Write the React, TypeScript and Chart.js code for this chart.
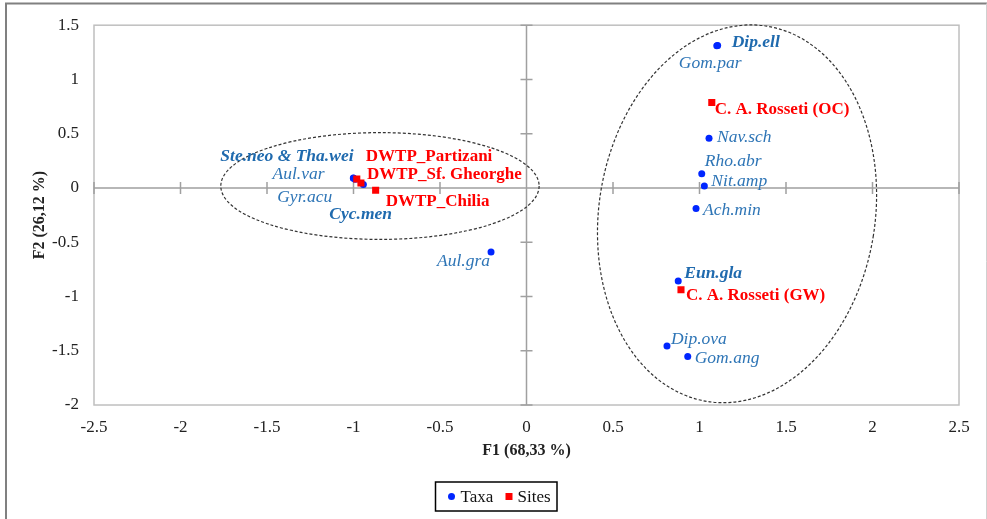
import React, { useEffect, useRef } from "react";
import { Chart, registerables } from "chart.js";
Chart.register(...registerables);

// ---------- data ----------
const xTickValues = [-2.5, -2, -1.5, -1, -0.5, 0, 0.5, 1, 1.5, 2, 2.5];
const yTickValues = [-2, -1.5, -1, -0.5, 0, 0.5, 1, 1.5];

const xTitle = "F1 (68,33 %)";
const yTitle = "F2 (26,12 %)";

const taxaNames = ["Dip.ell", "Gom.par", "Nav.sch", "Rho.abr", "Nit.amp", "Ach.min", "Eun.gla", "Dip.ova", "Gom.ang", "Aul.gra", "Ste.neo & Tha.wei", "Aul.var", "Gyr.acu", "Cyc.men"];
const taxaF1 = [1.105, 1.1, 1.055, 1.013, 1.028, 0.98, 0.877, 0.812, 0.932, -0.205, -1.001, -1.0, -0.99, -0.943];
const taxaF2 = [1.314, 1.31, 0.458, 0.132, 0.018, -0.189, -0.858, -1.457, -1.554, -0.589, 0.092, 0.09, 0.08, 0.031];
const taxaBold = [true, false, false, false, false, false, true, false, false, false, true, false, false, true];

const siteNames = ["C. A. Rosseti (OC)", "C. A. Rosseti (GW)", "DWTP_Partizani", "DWTP_Sf. Gheorghe", "DWTP_Chilia"];
const siteF1 = [1.071, 0.893, -0.981, -0.957, -0.872];
const siteF2 = [0.788, -0.938, 0.082, 0.046, -0.021];

const groupCX = [-0.847, 1.217];
const groupCY = [0.018, -0.238];
const groupRX = [0.92, 0.798];
const groupRY = [0.492, 1.751];
const groupRotDeg = [0, 9];

// ---------- presentation ----------
const taxaLabelOffset = [
  [14, -3], [-38, 18], [8, -1], [3, -12], [7, -5], [7, 2], [6, -8], [4, -7], [7, 2], [-54, 10], [-133, -22], [-81, -4], [-78, 18], [-34, 30],
];
const siteLabelOffset = [[3, 7], [5, 6], [9, -22], [6, -8], [10, 11]];

const SERIF = '"Liberation Serif", "Times New Roman", serif';
const TAXA_COLOR = "#0026FF";
const SITE_COLOR = "#FF0000";

const overlayPlugin = {
  id: "overlay",
  beforeDatasetsDraw(chart: any) {
    const { ctx, chartArea: a, scales } = chart;
    const xs = scales.x, ys = scales.y;
    ctx.save();
    ctx.strokeStyle = "#BFBFBF";
    ctx.lineWidth = 1.5;
    ctx.strokeRect(a.left, a.top, a.right - a.left, a.bottom - a.top);
    const x0 = xs.getPixelForValue(0);
    const y0 = ys.getPixelForValue(0);
    ctx.strokeStyle = "#A0A0A0";
    ctx.lineWidth = 1.5;
    ctx.beginPath();
    ctx.moveTo(a.left, y0); ctx.lineTo(a.right, y0);
    ctx.moveTo(x0, a.top); ctx.lineTo(x0, a.bottom);
    xTickValues.forEach((v) => {
      const p = xs.getPixelForValue(v);
      ctx.moveTo(p, y0 - 6); ctx.lineTo(p, y0 + 6);
    });
    yTickValues.forEach((v) => {
      const p = ys.getPixelForValue(v);
      ctx.moveTo(x0 - 6, p); ctx.lineTo(x0 + 6, p);
    });
    ctx.stroke();
    ctx.strokeStyle = "#333333";
    ctx.lineWidth = 1.2;
    ctx.setLineDash([3, 2]);
    for (let i = 0; i < groupCX.length; i++) {
      const cx = xs.getPixelForValue(groupCX[i]);
      const cy = ys.getPixelForValue(groupCY[i]);
      const rx = Math.abs(xs.getPixelForValue(groupCX[i] + groupRX[i]) - cx);
      const ry = Math.abs(ys.getPixelForValue(groupCY[i] + groupRY[i]) - cy);
      ctx.beginPath();
      ctx.ellipse(cx, cy, rx, ry, (groupRotDeg[i] * Math.PI) / 180, 0, Math.PI * 2);
      ctx.stroke();
    }
    ctx.restore();
  },
  afterDatasetsDraw(chart: any) {
    const { ctx, scales } = chart;
    const xs = scales.x, ys = scales.y;
    ctx.save();
    ctx.textBaseline = "middle";
    ctx.textAlign = "left";
    taxaNames.forEach((name, i) => {
      const px = xs.getPixelForValue(taxaF1[i]);
      const py = ys.getPixelForValue(taxaF2[i]);
      ctx.font = `${taxaBold[i] ? "bold " : ""}italic 17.5px ${SERIF}`;
      ctx.fillStyle = taxaBold[i] ? "#1F6AAE" : "#2E75B6";
      ctx.fillText(name, px + taxaLabelOffset[i][0], py + taxaLabelOffset[i][1]);
    });
    siteNames.forEach((name, i) => {
      const px = xs.getPixelForValue(siteF1[i]);
      const py = ys.getPixelForValue(siteF2[i]);
      ctx.font = `bold 17px ${SERIF}`;
      ctx.fillStyle = SITE_COLOR;
      ctx.fillText(name, px + siteLabelOffset[i][0], py + siteLabelOffset[i][1]);
    });
    ctx.restore();
  },
  afterDraw(chart: any) {
    const { ctx, chartArea: a, width, height } = chart;
    ctx.save();
    ctx.fillStyle = "#222";
    ctx.font = `bold 16px ${SERIF}`;
    ctx.textAlign = "center";
    ctx.textBaseline = "middle";
    ctx.fillText(xTitle, (a.left + a.right) / 2, 451);
    ctx.save();
    ctx.translate(40, (a.top + a.bottom) / 2);
    ctx.rotate(-Math.PI / 2);
    ctx.fillText(yTitle, 0, 0);
    ctx.restore();
    const ds = chart.data.datasets;
    ctx.font = `17px ${SERIF}`;
    const bx = 435.5, by = 482, bw = 121.5, bh = 29;
    ctx.strokeStyle = "#000";
    ctx.lineWidth = 1.5;
    ctx.strokeRect(bx, by, bw, bh);
    const cy = by + bh / 2;
    ctx.textAlign = "left";
    ctx.fillStyle = ds[0].backgroundColor;
    ctx.beginPath();
    ctx.arc(bx + 16, cy, 3.5, 0, Math.PI * 2);
    ctx.fill();
    ctx.fillStyle = "#111";
    ctx.fillText(ds[0].label, bx + 25, cy + 1);
    ctx.fillStyle = ds[1].backgroundColor;
    ctx.fillRect(bx + 70, cy - 3.5, 7, 7);
    ctx.fillStyle = "#111";
    ctx.fillText(ds[1].label, bx + 82, cy + 1);
    ctx.strokeStyle = "#808080";
    ctx.lineWidth = 2;
    ctx.beginPath();
    ctx.moveTo(6, height); ctx.lineTo(6, 3.5); ctx.lineTo(width, 3.5);
    ctx.stroke();
    ctx.strokeStyle = "#D0D0D0";
    ctx.lineWidth = 1;
    ctx.beginPath();
    ctx.moveTo(986.5, 3.5); ctx.lineTo(986.5, height);
    ctx.stroke();
    ctx.restore();
  },
};

export default function App() {
  const ref = useRef<HTMLCanvasElement | null>(null);
  useEffect(() => {
    if (!ref.current) return;
    const chart = new Chart(ref.current, {
      type: "scatter",
      data: {
        datasets: [
          {
            label: "Taxa",
            data: taxaF1.map((x, i) => ({ x, y: taxaF2[i] })),
            backgroundColor: TAXA_COLOR,
            borderColor: TAXA_COLOR,
            pointStyle: "circle",
            pointRadius: 3.5,
            borderWidth: 0,
            order: 2,
          },
          {
            label: "Sites",
            data: siteF1.map((x, i) => ({ x, y: siteF2[i] })),
            backgroundColor: SITE_COLOR,
            borderColor: SITE_COLOR,
            pointStyle: "rect",
            pointRadius: 5,
            borderWidth: 0,
            order: 1,
          },
        ],
      },
      options: {
        responsive: false,
        animation: false,
        devicePixelRatio: 1,
        layout: { padding: { top: 23, right: 28, left: 0, bottom: 0 } },
        plugins: { legend: { display: false }, tooltip: { enabled: false } },
        scales: {
          x: {
            type: "linear",
            min: -2.5,
            max: 2.5,
            afterBuildTicks: (s: any) => { s.ticks = xTickValues.map((v) => ({ value: v })); },
            afterFit: (s: any) => { s.height = 114; },
            grid: { display: false, drawTicks: false },
            border: { display: false },
            ticks: {
              padding: 12,
              autoSkip: false,
              maxRotation: 0,
              color: "#222",
              font: { family: SERIF, size: 17 },
              callback: (v: any) => String(v),
            },
          },
          y: {
            type: "linear",
            min: -2,
            max: 1.5,
            afterBuildTicks: (s: any) => { s.ticks = yTickValues.map((v) => ({ value: v })); },
            afterFit: (s: any) => { s.width = 94; },
            grid: { display: false, drawTicks: false },
            border: { display: false },
            ticks: {
              padding: 15,
              autoSkip: false,
              color: "#222",
              font: { family: SERIF, size: 17 },
              callback: (v: any) => String(v),
            },
          },
        },
      },
      plugins: [overlayPlugin],
    } as any);
    return () => chart.destroy();
  }, []);
  return (
    <div style={{ position: "fixed", left: 0, top: 0, width: 987, height: 519, background: "#fff" }}>
      <canvas ref={ref} width={987} height={519} style={{ width: 987, height: 519, display: "block" }} />
    </div>
  );
}
